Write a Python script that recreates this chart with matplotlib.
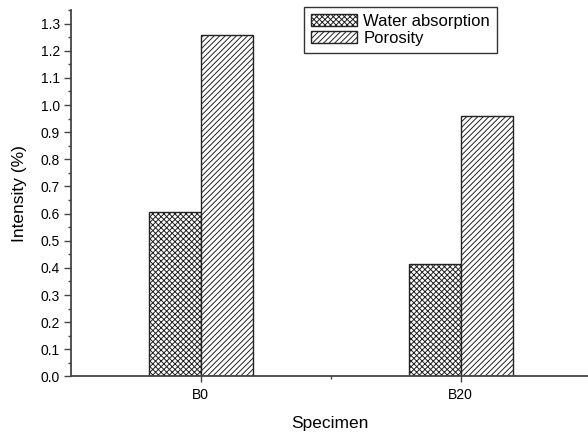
import numpy as np
import matplotlib
matplotlib.use('Agg')
import matplotlib.pyplot as plt
from matplotlib.ticker import MultipleLocator, FixedLocator, FormatStrFormatter

plt.rcParams['font.family'] = ['Liberation Sans', 'DejaVu Sans']
plt.rcParams['hatch.linewidth'] = 0.7

# dados
especimes = ['B0', 'B20']
absorcao_agua = [0.607, 0.415]
porosidade = [1.257, 0.961]

fig = plt.figure(figsize=(5.88, 4.36), dpi=100)
ax = fig.add_axes([0.1207, 0.1365, 0.879, 0.8406])

x = np.arange(1, len(especimes) + 1)
largura = 0.2

ax.bar(x - largura / 2, absorcao_agua, largura, color='white', edgecolor='#222222',
       linewidth=1.0, hatch='xxxxxx', label='Water absorption')
ax.bar(x + largura / 2, porosidade, largura, color='white', edgecolor='#222222',
       linewidth=1.0, hatch='//////', label='Porosity')

ax.set_xlim(0.5, 2.49)
ax.set_ylim(0, 1.35)
ax.set_xticks(x)
ax.set_xticklabels(especimes)
ax.xaxis.set_minor_locator(FixedLocator([1.5]))
ax.yaxis.set_major_locator(MultipleLocator(0.1))
ax.yaxis.set_minor_locator(MultipleLocator(0.05))
ax.yaxis.set_major_formatter(FormatStrFormatter('%.1f'))

for s in ['top', 'right']:
    ax.spines[s].set_visible(False)
for s in ['left', 'bottom']:
    ax.spines[s].set_linewidth(1.3)
    ax.spines[s].set_color('#444444')

ax.tick_params(axis='both', which='major', direction='out', length=5, width=1,
               labelsize=10, color='#444444', pad=3)
ax.tick_params(axis='both', which='minor', direction='out', length=2.5, width=1,
               color='#444444')
ax.tick_params(axis='x', which='major', length=4.5, pad=4)

ax.set_xlabel('Specimen', fontsize=12.5, labelpad=10)
ax.set_ylabel('Intensity (%)', fontsize=12.5, labelpad=10)

leg = ax.legend(loc='upper left', bbox_to_anchor=(304 / 588, 1 - 7 / 436),
                bbox_transform=fig.transFigure, borderaxespad=0, fontsize=12,
                frameon=True, fancybox=False, edgecolor='#333333', framealpha=1,
                borderpad=0.4, handlelength=2.8, handleheight=0.75,
                handletextpad=0.35, labelspacing=0.15)
leg.get_frame().set_linewidth(1.0)

fig.savefig('out.png', dpi=100)
